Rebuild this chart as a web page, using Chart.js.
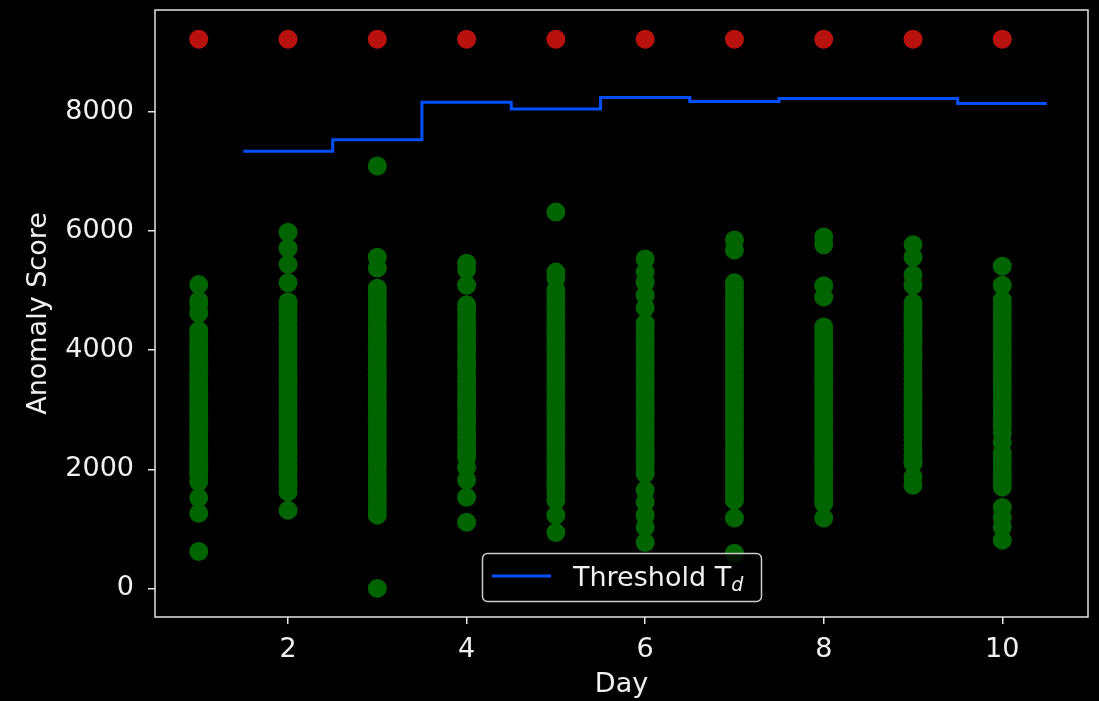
<!DOCTYPE html>
<html>
<head>
<meta charset="utf-8">
<script src="https://cdn.jsdelivr.net/npm/chart.js@4.4.0/dist/chart.umd.min.js"></script>
<style>
  html, body { margin: 0; padding: 0; background: #000; }
  .wrap { width: 1099px; height: 701px; }
</style>
</head>
<body>
<div class="wrap"><canvas id="myChart"></canvas></div>
<script>
// anomaly scores per day
const days = [1, 2, 3, 4, 5, 6, 7, 8, 9, 10];
const day1Scores = [5100, 4830, 4760, 4620, 4330, 4280, 4190, 4120, 4050, 3960, 3890, 3800, 3740, 3650, 3580, 3500, 3410, 3330, 3260, 3180, 3100, 3020, 2950, 2870, 2790, 2700, 2640, 2560, 2470, 2390, 2300, 2230, 2150, 2060, 1980, 1900, 1790, 1520, 1260, 620];
const day2Scores = [5980, 5710, 5440, 5130, 4810, 4750, 4660, 4570, 4480, 4390, 4300, 4220, 4130, 4040, 3960, 3870, 3790, 3700, 3610, 3530, 3440, 3360, 3270, 3180, 3100, 3010, 2920, 2840, 2750, 2660, 2580, 2490, 2410, 2320, 2240, 2150, 2060, 1980, 1890, 1800, 1710, 1620, 1310];
const day3Scores = [7090, 5560, 5380, 5040, 4970, 4880, 4790, 4700, 4620, 4530, 4440, 4360, 4270, 4180, 4100, 4010, 3920, 3840, 3750, 3670, 3580, 3490, 3410, 3320, 3230, 3150, 3060, 2980, 2890, 2800, 2720, 2630, 2550, 2460, 2370, 2290, 2200, 2120, 2030, 1940, 1860, 1770, 1690, 1600, 1520, 1420, 1330, 1230, 0];
const day4Scores = [5460, 5350, 5090, 4760, 4680, 4590, 4500, 4420, 4330, 4240, 4160, 4070, 3980, 3900, 3810, 3730, 3640, 3550, 3470, 3380, 3300, 3210, 3120, 3040, 2950, 2870, 2780, 2700, 2610, 2530, 2440, 2360, 2280, 2200, 2030, 1820, 1530, 1110];
const day5Scores = [6320, 5310, 5210, 5010, 4930, 4840, 4760, 4670, 4590, 4500, 4420, 4330, 4250, 4160, 4080, 3990, 3910, 3820, 3740, 3650, 3570, 3480, 3400, 3310, 3230, 3140, 3060, 2970, 2890, 2800, 2720, 2630, 2550, 2460, 2380, 2290, 2210, 2120, 2040, 1950, 1870, 1780, 1700, 1610, 1480, 1230, 940];
const day6Scores = [5530, 5310, 5140, 4920, 4710, 4450, 4370, 4290, 4200, 4120, 4030, 3950, 3860, 3780, 3700, 3610, 3530, 3440, 3360, 3280, 3190, 3110, 3020, 2940, 2860, 2770, 2690, 2600, 2520, 2440, 2350, 2270, 2180, 2100, 2010, 1930, 1650, 1450, 1230, 1030, 770];
const day7Scores = [5850, 5680, 5130, 5050, 4960, 4880, 4790, 4710, 4620, 4540, 4450, 4370, 4280, 4200, 4110, 4030, 3940, 3860, 3770, 3690, 3600, 3520, 3430, 3350, 3260, 3180, 3090, 3010, 2920, 2840, 2750, 2670, 2580, 2500, 2410, 2330, 2240, 2160, 2070, 1990, 1900, 1820, 1730, 1650, 1560, 1480, 1180, 590];
const day8Scores = [5900, 5770, 5080, 4890, 4390, 4310, 4220, 4140, 4050, 3970, 3880, 3800, 3710, 3630, 3540, 3460, 3370, 3290, 3200, 3120, 3030, 2950, 2860, 2780, 2690, 2610, 2520, 2440, 2350, 2270, 2180, 2100, 2010, 1930, 1840, 1760, 1670, 1590, 1510, 1430, 1180];
const day9Scores = [5770, 5560, 5260, 5090, 4790, 4710, 4620, 4540, 4450, 4370, 4280, 4200, 4110, 4030, 3940, 3860, 3770, 3690, 3600, 3520, 3430, 3350, 3260, 3180, 3090, 3010, 2920, 2840, 2750, 2670, 2580, 2500, 2410, 2330, 2240, 2160, 2100, 1870, 1730];
const day10Scores = [5410, 5090, 4840, 4760, 4670, 4590, 4500, 4420, 4330, 4250, 4160, 4080, 3990, 3910, 3820, 3740, 3650, 3570, 3480, 3400, 3310, 3230, 3140, 3060, 2970, 2890, 2800, 2720, 2610, 2450, 2270, 2190, 2100, 2020, 1930, 1850, 1770, 1700, 1360, 1190, 1030, 810];
const dayScores = [day1Scores, day2Scores, day3Scores, day4Scores, day5Scores, day6Scores, day7Scores, day8Scores, day9Scores, day10Scores];

// red markers along the top
const alarmScores = [9220, 9220, 9220, 9220, 9220, 9220, 9220, 9220, 9220, 9220];

// threshold T_d, one step per day (centred on the day)
const thresholdDays = [2, 3, 4, 5, 6, 7, 8, 9, 10];
const thresholdValues = [7340, 7530, 8160, 8050, 8240, 8175, 8225, 8225, 8140];

const xTicks = [2, 4, 6, 8, 10];
const yTicks = [0, 2000, 4000, 6000, 8000];

const textColor = '#f0f0f0';
const frameColor = '#e4e4e4';
const fontFamily = "'DejaVu Sans', sans-serif";
const fontSize = 27;

Chart.defaults.font.family = fontFamily;
Chart.defaults.color = textColor;

let scorePoints = [];
days.forEach((d, i) => {
  dayScores[i].forEach((v) => scorePoints.push({ x: d, y: v }));
});

let alarmPoints = days.map((d, i) => ({ x: d, y: alarmScores[i] }));

let thresholdPoints = thresholdDays.map((d, i) => ({ x: d - 0.5, y: thresholdValues[i] }));
thresholdPoints.push({
  x: thresholdDays[thresholdDays.length - 1] + 0.5,
  y: thresholdValues[thresholdValues.length - 1]
});

const blackBackground = {
  id: 'blackBackground',
  beforeDraw(chart) {
    const ctx = chart.ctx;
    ctx.save();
    ctx.fillStyle = '#000';
    ctx.fillRect(0, 0, chart.width, chart.height);
    ctx.restore();
  }
};

const frame = {
  id: 'frame',
  afterDatasetsDraw(chart) {
    const { ctx, chartArea: a } = chart;
    ctx.save();
    ctx.strokeStyle = frameColor;
    ctx.lineWidth = 1.5;
    ctx.strokeRect(a.left, a.top, a.right - a.left, a.bottom - a.top);
    ctx.restore();
  }
};

const thresholdLegend = {
  id: 'thresholdLegend',
  afterDraw(chart) {
    const ctx = chart.ctx;
    const x = 482.5, y = 553.5, w = 279, h = 48, r = 5;
    ctx.save();
    ctx.beginPath();
    ctx.roundRect(x, y, w, h, r);
    ctx.fillStyle = 'rgba(0,0,0,0.8)';
    ctx.fill();
    ctx.strokeStyle = '#cccccc';
    ctx.lineWidth = 1.5;
    ctx.stroke();

    ctx.beginPath();
    ctx.moveTo(492, 576);
    ctx.lineTo(551, 576);
    ctx.strokeStyle = '#0050ff';
    ctx.lineWidth = 3;
    ctx.stroke();

    ctx.fillStyle = textColor;
    ctx.textBaseline = 'alphabetic';
    ctx.font = fontSize + "px " + fontFamily;
    const label = 'Threshold T';
    ctx.fillText(label, 573, 586);
    const lw = ctx.measureText(label).width;
    ctx.font = "italic 19px " + fontFamily;
    ctx.fillText('d', 573 + lw, 591);
    ctx.restore();
  }
};

function noScalePadding(scale) {
  scale.paddingTop = 0;
  scale.paddingBottom = 0;
  scale.paddingLeft = 0;
  scale.paddingRight = 0;
}

new Chart(document.getElementById('myChart'), {
  type: 'scatter',
  data: {
    datasets: [
      {
        label: 'Threshold',
        type: 'line',
        data: thresholdPoints,
        stepped: 'before',
        borderColor: '#0050ff',
        borderWidth: 3,
        pointRadius: 0,
        fill: false,
        order: 1
      },
      {
        label: 'alarms',
        data: alarmPoints,
        backgroundColor: '#b8120e',
        pointRadius: 9.5,
        pointBorderWidth: 0,
        order: 2
      },
      {
        label: 'scores',
        data: scorePoints,
        backgroundColor: '#006400',
        pointRadius: 9.5,
        pointBorderWidth: 0,
        order: 3
      }
    ]
  },
  options: {
    responsive: true,
    maintainAspectRatio: false,
    animation: false,
    events: [],
    layout: { padding: { top: 10, right: 11, left: 0, bottom: 0 } },
    plugins: {
      legend: { display: false },
      tooltip: { enabled: false }
    },
    scales: {
      x: {
        type: 'linear',
        min: 0.51,
        max: 10.96,
        afterBuildTicks: (scale) => { scale.ticks = xTicks.map((v) => ({ value: v })); },
        afterFit: (scale) => { scale.height = 84; noScalePadding(scale); },
        ticks: { font: { size: fontSize }, color: textColor, padding: 10, maxRotation: 0, callback: (v) => String(v) },
        grid: { drawOnChartArea: false, drawTicks: true, tickLength: 7, color: frameColor, lineWidth: 1.5 },
        border: { display: false },
        title: { display: true, text: 'Day', font: { size: fontSize }, color: textColor, padding: { top: 0, bottom: 0 } }
      },
      y: {
        type: 'linear',
        min: -480,
        max: 9710,
        afterBuildTicks: (scale) => { scale.ticks = yTicks.map((v) => ({ value: v })); },
        afterFit: (scale) => { scale.width = 155; noScalePadding(scale); },
        ticks: { font: { size: fontSize }, color: textColor, padding: 14, callback: (v) => String(v) },
        grid: { drawOnChartArea: false, drawTicks: true, tickLength: 7, color: frameColor, lineWidth: 1.5 },
        border: { display: false },
        title: { display: true, text: 'Anomaly Score', font: { size: fontSize }, color: textColor, padding: { top: 23, bottom: 0 } }
      }
    }
  },
  plugins: [blackBackground, frame, thresholdLegend]
});
</script>
</body>
</html>
